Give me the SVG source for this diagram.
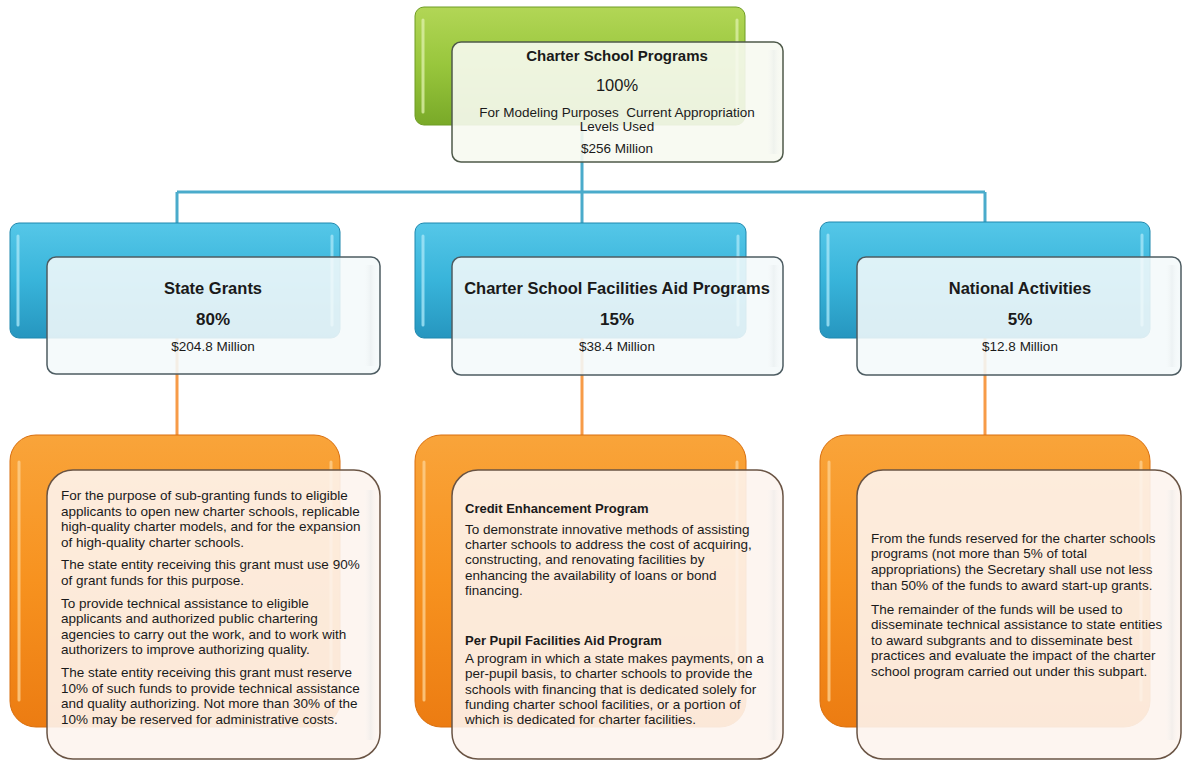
<svg xmlns="http://www.w3.org/2000/svg" width="1182" height="761" viewBox="0 0 1182 761">
  <defs>
    <linearGradient id="gGreen" x1="0" y1="0" x2="0" y2="1">
      <stop offset="0" stop-color="#b2d656"/>
      <stop offset="0.5" stop-color="#98c63c"/>
      <stop offset="1" stop-color="#79a928"/>
    </linearGradient>
    <linearGradient id="gBlue" x1="0" y1="0" x2="0" y2="1">
      <stop offset="0" stop-color="#55c7e8"/>
      <stop offset="0.5" stop-color="#38b4da"/>
      <stop offset="1" stop-color="#2696bf"/>
    </linearGradient>
    <linearGradient id="gOrange" x1="0" y1="0" x2="0" y2="1">
      <stop offset="0" stop-color="#f9a43a"/>
      <stop offset="0.5" stop-color="#f7921f"/>
      <stop offset="1" stop-color="#ec7c12"/>
    </linearGradient>
    <linearGradient id="gSheen" x1="0" y1="0" x2="1" y2="0">
      <stop offset="0" stop-color="#ffffff" stop-opacity="0"/>
      <stop offset="0.95" stop-color="#ffffff" stop-opacity="0"/>
      <stop offset="0.975" stop-color="#d3dadd" stop-opacity="0.25"/>
      <stop offset="1" stop-color="#ffffff" stop-opacity="0"/>
    </linearGradient>
  </defs>
  <style>
    .back-green { fill: url(#gGreen); stroke: #6f9c24; stroke-width: 1; }
    .back-blue { fill: url(#gBlue); stroke: #1f88ae; stroke-width: 1; }
    .back-orange { fill: url(#gOrange); stroke: #d96f0e; stroke-width: 1; }
    .hl-green { stroke: #dcefa6; stroke-width: 3; stroke-linecap: round; opacity: 0.8; }
    .hl-blue { stroke: #a6e6f7; stroke-width: 3; stroke-linecap: round; opacity: 0.8; }
    .hl-orange { stroke: #fdd08e; stroke-width: 3; stroke-linecap: round; opacity: 0.8; }
    .front-green { fill: #f7faf1; fill-opacity: 0.9; stroke: #4f5a4a; stroke-width: 1.5; }
    .front-blue { fill: #f4f9fb; fill-opacity: 0.88; stroke: #4d5c62; stroke-width: 1.5; }
    .front-orange { fill: #fdf4ee; fill-opacity: 0.9; stroke: #6a5444; stroke-width: 1.5; }
    .sheen { fill: url(#gSheen); stroke: none; }
    .wire-blue { stroke: #4aabcb; stroke-width: 3; fill: none; }
    .wire-orange { stroke: #f79b48; stroke-width: 3; fill: none; }
    text { font-family: "Liberation Sans", Arial, sans-serif; fill: #1a1a1a; }
    .title { font-size: 16.5px; font-weight: bold; text-anchor: middle; }
    .title-top { font-size: 15px; font-weight: bold; text-anchor: middle; }
    .pct { font-size: 17px; font-weight: bold; text-anchor: middle; }
    .pct-top { font-size: 16.5px; text-anchor: middle; }
    .amt { font-size: 13.5px; text-anchor: middle; }
    .body { font-size: 13.5px; }
    .sub { font-size: 13px; font-weight: bold; }
  </style>

  <!-- connectors -->
  <g id="connectors">
    <path class="wire-blue" d="M582,125 V192 M177,192 H985 M177,192 V223 M582,192 V223 M985,192 V223"/>
    <path class="wire-orange" d="M177,338 V435 M582,338 V435 M985,338 V435"/>
  </g>

  <!-- top: Charter School Programs -->
  <g id="node-programs">
    <rect class="back-green" x="415" y="7" width="330" height="118" rx="9"/>
    <path class="hl-green" d="M423,20 V112 M737,20 V112"/>
    <rect class="front-green" x="452" y="42" width="331" height="120" rx="9"/>
    <rect class="sheen" x="453" y="50" width="329" height="104"/>
    <text class="title-top" x="617" y="60.5">Charter School Programs</text>
    <text class="pct-top" x="617" y="91">100%</text>
    <text class="amt" x="617" y="117" xml:space="preserve">For Modeling Purposes  Current Appropriation</text>
    <text class="amt" x="617" y="131">Levels Used</text>
    <text class="amt" x="617" y="153">$256 Million</text>
  </g>

  <!-- middle row -->
  <g id="node-state-grants">
    <rect class="back-blue" x="10" y="223" width="330" height="115" rx="9"/>
    <path class="hl-blue" d="M18,236 V325 M332,236 V325"/>
    <rect class="front-blue" x="47" y="257" width="333" height="117" rx="9"/>
    <rect class="sheen" x="48" y="265" width="331" height="101"/>
    <text class="title" x="213" y="294">State Grants</text>
    <text class="pct" x="213" y="324.5">80%</text>
    <text class="amt" x="213" y="350.5">$204.8 Million</text>
  </g>

  <g id="node-facilities">
    <rect class="back-blue" x="415" y="223" width="331" height="115" rx="9"/>
    <path class="hl-blue" d="M423,236 V325 M738,236 V325"/>
    <rect class="front-blue" x="452" y="257" width="331" height="118" rx="9"/>
    <rect class="sheen" x="453" y="265" width="329" height="102"/>
    <text class="title" x="617" y="294">Charter School Facilities Aid Programs</text>
    <text class="pct" x="617" y="324.5">15%</text>
    <text class="amt" x="617" y="350.5">$38.4 Million</text>
  </g>

  <g id="node-national">
    <rect class="back-blue" x="820" y="222" width="330" height="116" rx="9"/>
    <path class="hl-blue" d="M828,235 V325 M1142,235 V325"/>
    <rect class="front-blue" x="857" y="257" width="324" height="118" rx="9"/>
    <rect class="sheen" x="858" y="265" width="322" height="102"/>
    <text class="title" x="1020" y="294">National Activities</text>
    <text class="pct" x="1020" y="324.5">5%</text>
    <text class="amt" x="1020" y="350.5">$12.8 Million</text>
  </g>

  <!-- bottom row -->
  <g id="node-state-detail">
    <rect class="back-orange" x="10" y="435" width="330" height="292" rx="26"/>
    <path class="hl-orange" d="M19,462 V700 M331,462 V700"/>
    <rect class="front-orange" x="47" y="470" width="333" height="289" rx="26"/>
    <rect class="sheen" x="48" y="490" width="331" height="250"/>
    <text class="body" x="61">
      <tspan x="61" y="500">For the purpose of sub-granting funds to eligible</tspan>
      <tspan x="61" y="515.6">applicants to open new charter schools, replicable</tspan>
      <tspan x="61" y="531.2">high-quality charter models, and for the expansion</tspan>
      <tspan x="61" y="546.8">of high-quality charter schools.</tspan>
      <tspan x="61" y="569.4">The state entity receiving this grant must use 90%</tspan>
      <tspan x="61" y="585">of grant funds for this purpose.</tspan>
      <tspan x="61" y="607.6">To provide technical assistance to eligible</tspan>
      <tspan x="61" y="623.2">applicants and authorized public chartering</tspan>
      <tspan x="61" y="638.8">agencies to carry out the work, and to work with</tspan>
      <tspan x="61" y="654.4">authorizers to improve authorizing quality.</tspan>
      <tspan x="61" y="677">The state entity receiving this grant must reserve</tspan>
      <tspan x="61" y="692.6">10% of such funds to provide technical assistance</tspan>
      <tspan x="61" y="708.2">and quality authorizing. Not more than 30% of the</tspan>
      <tspan x="61" y="723.8">10% may be reserved for administrative costs.</tspan>
    </text>
  </g>

  <g id="node-facilities-detail">
    <rect class="back-orange" x="415" y="435" width="331" height="292" rx="26"/>
    <path class="hl-orange" d="M424,462 V700 M737,462 V700"/>
    <rect class="front-orange" x="452" y="470" width="331" height="289" rx="26"/>
    <rect class="sheen" x="453" y="490" width="329" height="250"/>
    <text class="sub" x="465" y="512.5">Credit Enhancement Program</text>
    <text class="body" x="465">
      <tspan x="465" y="534">To demonstrate innovative methods of assisting</tspan>
      <tspan x="465" y="549.2">charter schools to address the cost of acquiring,</tspan>
      <tspan x="465" y="564.4">constructing, and renovating facilities by</tspan>
      <tspan x="465" y="579.6">enhancing the availability of loans or bond</tspan>
      <tspan x="465" y="594.8">financing.</tspan>
    </text>
    <text class="sub" x="465" y="644.5">Per Pupil Facilities Aid Program</text>
    <text class="body" x="465">
      <tspan x="465" y="663">A program in which a state makes payments, on a</tspan>
      <tspan x="465" y="678.3">per-pupil basis, to charter schools to provide the</tspan>
      <tspan x="465" y="693.6">schools with financing that is dedicated solely for</tspan>
      <tspan x="465" y="708.9">funding charter school facilities, or a portion of</tspan>
      <tspan x="465" y="724.2">which is dedicated for charter facilities.</tspan>
    </text>
  </g>

  <g id="node-national-detail">
    <rect class="back-orange" x="820" y="435" width="330" height="292" rx="26"/>
    <path class="hl-orange" d="M829,462 V700 M1141,462 V700"/>
    <rect class="front-orange" x="857" y="470" width="324" height="289" rx="26"/>
    <rect class="sheen" x="858" y="490" width="322" height="250"/>
    <text class="body" x="871">
      <tspan x="871" y="542.7">From the funds reserved for the charter schools</tspan>
      <tspan x="871" y="558.3">programs (not more than 5% of total</tspan>
      <tspan x="871" y="573.9">appropriations) the Secretary shall use not less</tspan>
      <tspan x="871" y="589.5">than 50% of the funds to award start-up grants.</tspan>
      <tspan x="871" y="613.5">The remainder of the funds will be used to</tspan>
      <tspan x="871" y="629.1">disseminate technical assistance to state entities</tspan>
      <tspan x="871" y="644.7">to award subgrants and to disseminate best</tspan>
      <tspan x="871" y="660.3">practices and evaluate the impact of the charter</tspan>
      <tspan x="871" y="675.9">school program carried out under this subpart.</tspan>
    </text>
  </g>
</svg>
